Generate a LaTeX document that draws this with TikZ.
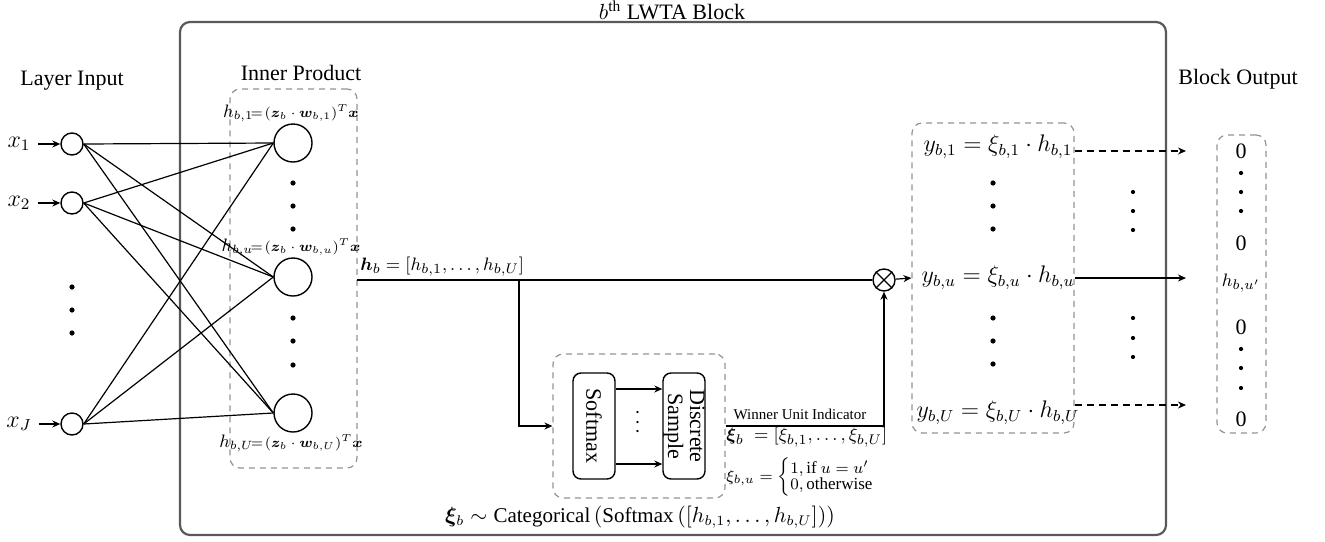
\documentclass[tikz,border=0pt]{standalone}
\usepackage{amsmath}
\usepackage{bm}
\usepackage{fontspec}
\setmainfont{Liberation Serif}
\usetikzlibrary{arrows.meta,calc}
\newcommand{\hblabel}[1]{{\fontsize{9}{10}\selectfont$h_{b,#1}$}{\fontsize{7}{8}\selectfont$\!=\!(\bm z_b\cdot\bm w_{b,#1})^T\bm x$}}
\tikzset{
 lbl/.style={font=\fontsize{11}{13}\selectfont, inner sep=1pt},
 inp/.style={circle,draw,line width=0.7pt,minimum size=11pt,inner sep=0pt},
 hid/.style={circle,draw,line width=0.7pt,minimum size=19pt,inner sep=0pt},
 dbox/.style={draw=gray!85,dash pattern=on 3pt off 2.5pt,line width=0.6pt,rounded corners=5pt,inner sep=0pt},
 fbox/.style={draw,line width=0.7pt,rounded corners=4pt,inner sep=0pt,minimum width=53pt,minimum height=21pt,rotate=-90,align=center,font=\fontsize{11}{11}\selectfont},
 conn/.style={line width=0.6pt},
 arr/.style={line width=0.6pt,-{Stealth[length=4pt,width=3.5pt]}},
 darr/.style={arr,dash pattern=on 3.5pt off 2.5pt},
 bigdot/.style={circle,fill,inner sep=0pt,minimum size=2.6pt},
 smalldot/.style={circle,fill,inner sep=0pt,minimum size=2.1pt},
 mth/.style={font=\fontsize{12}{14}\selectfont, inner sep=1pt},
}
\begin{document}
\begin{tikzpicture}[x=0.5pt,y=-0.5pt]
\useasboundingbox (0,0) rectangle (1325,541);
% main block
\node[draw=black!65,line width=1.1pt,rounded corners=5pt,minimum width=493pt,minimum height=256.5pt,inner sep=0pt] (block) at (673,278.5) {};
\node[lbl] (title) at (672,10) {$b^{\text{th}}$ LWTA Block};
% layer input
\node[lbl] (li) at (72,81) {Layer Input};
\node[inp] (x1) at (72,144) {};
\node[inp] (x2) at (72,203) {};
\node[inp] (xJ) at (72,424) {};
\node[mth,inner sep=3.5pt] (lx1) at (19,144) {$x_1$};
\node[mth,inner sep=3.5pt] (lx2) at (19,203) {$x_2$};
\node[mth,inner sep=3.5pt] (lxJ) at (19,424) {$x_J$};
\draw[arr] (lx1) -- (x1);
\draw[arr] (lx2) -- (x2);
\draw[arr] (lxJ) -- (xJ);
\node[bigdot] (ld1) at (72,287) {};
\node[bigdot] (ld2) at (72,310) {};
\node[bigdot] (ld3) at (72,333) {};
% hidden layer
\node[dbox,minimum width=63.5pt,minimum height=189.5pt] (ip) at (293.5,278.5) {};
\node[lbl] (ipl) at (301,73) {Inner Product};
\node[hid] (h1) at (293,143) {};
\node[hid] (hu) at (293,277) {};
\node[hid] (hU) at (293,413) {};
\foreach \i in {x1,x2,xJ}{\foreach \j in {h1,hu,hU}{\draw[conn] (\i.east) -- (\j.west);}}
\node[inner sep=0pt] (lh1) at (291,113) {\hblabel{1}};
\node[inner sep=0pt] (lhu) at (291,247) {\hblabel{u}};
\node[inner sep=0pt] (lhU) at (291,443) {\hblabel{U}};
\node[bigdot] (hd1) at (293,183) {};
\node[bigdot] (hd2) at (293,206) {};
\node[bigdot] (hd3) at (293,229) {};
\node[bigdot] (hd4) at (293,318) {};
\node[bigdot] (hd5) at (293,341) {};
\node[bigdot] (hd6) at (293,365) {};
% h_b line
\node[circle,draw,line width=0.7pt,minimum size=11pt,inner sep=0pt] (mul) at (884,280) {};
\draw[line width=0.6pt] (mul.north west) -- (mul.south east) (mul.north east) -- (mul.south west);
\coordinate (hs) at (357,280);
\coordinate (br) at (519,280);
\draw[line width=1.3pt] (hs) -- (br);
\draw[conn] (br) -- (mul);
\node[anchor=south west,font=\fontsize{9.5}{11}\selectfont,inner sep=1.5pt] (hbl) at (hs) {$\bm h_b=[h_{b,1},\ldots,h_{b,U}]$};
% softmax / sample
\node[dbox,minimum width=86pt,minimum height=72pt] (sbox) at (639,426) {};
\draw[arr] (br) |- (sbox.west);
\node[fbox] (sm) at (594,426) {Softmax};
\node[fbox] (ds) at (684,426) {Discrete\\Sample};
\coordinate (ra) at (0,389);
\coordinate (rb) at (0,464);
\draw[arr] (sm.north |- ra) -- (ds.south |- ra);
\draw[arr] (sm.north |- rb) -- (ds.south |- rb);
\node[rotate=-90,inner sep=0pt,font=\fontsize{11}{11}\selectfont] (sdots) at (637,424) {$\cdots$};
\draw[arr] (sbox.east) -| (mul.south);
\node[font=\fontsize{7.5}{9}\selectfont,inner sep=1pt] (win) at (800,414) {Winner Unit Indicator};
\node[anchor=west,font=\fontsize{9.5}{11}\selectfont,inner sep=0pt] (xib) at (726,437) {$\bm\xi_b\;=[\xi_{b,1},\ldots,\xi_{b,U}]$};
\node[anchor=west,font=\fontsize{8.5}{9}\selectfont,inner sep=0pt] (xiu) at (726,477) {$\xi_{b,u}=\begin{cases}1,\text{if } u=u'\\[-3pt]0,\text{otherwise}\end{cases}$};
\node[font=\fontsize{10.5}{12}\selectfont,inner sep=1pt] (cat) at (640,517) {$\bm\xi_b\sim\text{Categorical}\left(\text{Softmax}\left([h_{b,1},\ldots,h_{b,U}]\right)\right)$};
% y box
\node[dbox,minimum width=81pt,minimum height=155pt] (ybox) at (993,278) {};
\draw[arr] (mul) -- (ybox.west);
\node[mth] (y1) at (998,147) {$y_{b,1}=\xi_{b,1}\cdot h_{b,1}$};
\node[mth] (yu) at (998,278) {$y_{b,u}=\xi_{b,u}\cdot h_{b,u}$};
\node[mth] (yU) at (998,413) {$y_{b,U}=\xi_{b,U}\cdot h_{b,U}$};
\node[bigdot] (yd1) at (993,183) {};
\node[bigdot] (yd2) at (993,206) {};
\node[bigdot] (yd3) at (993,229) {};
\node[bigdot] (yd4) at (993,318) {};
\node[bigdot] (yd5) at (993,341) {};
\node[bigdot] (yd6) at (993,364) {};
% output arrows
\coordinate (o1) at (1186,151);
\coordinate (ou) at (1186,278);
\coordinate (oU) at (1186,405);
\draw[darr] (ybox.east |- o1) -- (o1);
\draw[arr] (ybox.east |- ou) -- (ou);
\draw[darr] (ybox.east |- oU) -- (oU);
\node[smalldot] (md1) at (1133,192) {};
\node[smalldot] (md2) at (1133,211) {};
\node[smalldot] (md3) at (1133,230) {};
\node[smalldot] (md4) at (1133,318) {};
\node[smalldot] (md5) at (1133,338) {};
\node[smalldot] (md6) at (1133,357) {};
% output box
\node[lbl] (bo) at (1238,79) {Block Output};
\node[dbox,minimum width=24.5pt,minimum height=149pt] (obox) at (1241.5,284) {};
\node[lbl] (z1) at (1241,151) {0};
\node[smalldot] (od1) at (1241,173) {};
\node[smalldot] (od2) at (1241,192) {};
\node[smalldot] (od3) at (1241,211) {};
\node[lbl] (z2) at (1241,243) {0};
\node[font=\fontsize{9.5}{11}\selectfont,inner sep=1pt] (hup) at (1241,283) {$h_{b,u'}$};
\node[lbl] (z3) at (1241,327) {0};
\node[smalldot] (od4) at (1241,349) {};
\node[smalldot] (od5) at (1241,368) {};
\node[smalldot] (od6) at (1241,388) {};
\node[lbl] (z4) at (1241,419) {0};
\end{tikzpicture}
\end{document}
